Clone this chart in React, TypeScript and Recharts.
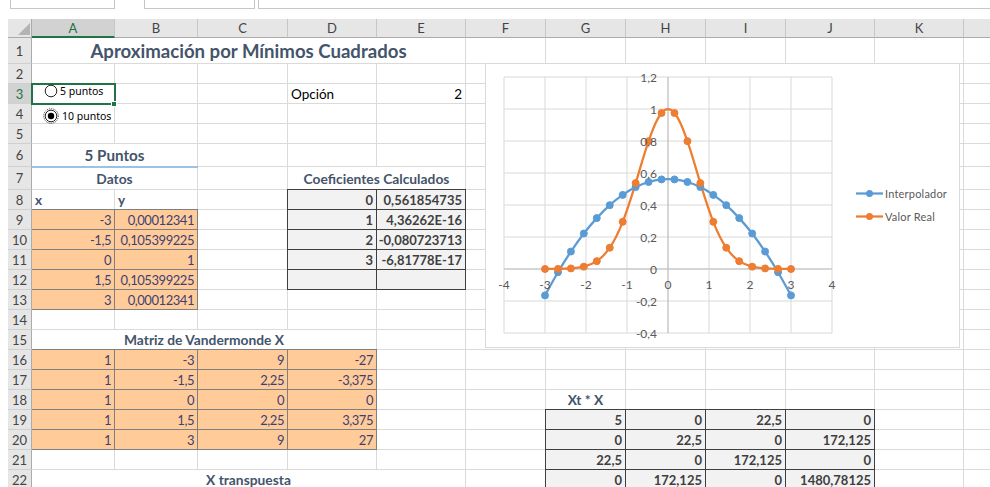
import React from 'react';
import { ComposedChart, Line, XAxis, YAxis, CartesianGrid, ReferenceLine, Legend } from 'recharts';

// ---------- chart data ----------
const xValues = [-3, -2.684, -2.368, -2.053, -1.737, -1.421, -1.105, -0.789, -0.474, -0.158, 0.158, 0.474, 0.789, 1.105, 1.421, 1.737, 2.053, 2.368, 2.684, 3];
const interpolador = [-0.165, -0.02, 0.109, 0.222, 0.318, 0.399, 0.463, 0.512, 0.544, 0.56, 0.56, 0.544, 0.512, 0.463, 0.399, 0.318, 0.222, 0.109, -0.02, -0.165];
const valorReal = [0.0001, 0.0007, 0.0037, 0.0148, 0.049, 0.133, 0.295, 0.537, 0.799, 0.975, 0.975, 0.799, 0.537, 0.295, 0.133, 0.049, 0.0148, 0.0037, 0.0007, 0.0001];
const xTicks = [-4, -3, -2, -1, 0, 1, 2, 3, 4];
const yTicks = [-0.4, -0.2, 0, 0.2, 0.4, 0.6, 0.8, 1, 1.2];
const seriesNames = ['Interpolador', 'Valor Real'];
const seriesColors = ['#5b9bd5', '#ed7d31'];

const chartData = xValues.map((x, i) => ({ x, interp: interpolador[i], real: valorReal[i] }));

// ---------- sheet data ----------
const colLetters = ['A', 'B', 'C', 'D', 'E', 'F', 'G', 'H', 'I', 'J', 'K', ''];
const colEdges = [32, 115, 198, 288, 377, 466, 546, 626, 706, 786, 875, 964, 1053];
const rowEdges = [38, 64, 84, 104, 124, 144, 167, 190, 210, 230, 250, 270, 290, 310, 330, 350, 370, 390, 410, 430, 450, 470, 490];

const titleText = 'Aproximación por Mínimos Cuadrados';
const datosX = ['-3', '-1,5', '0', '1,5', '3'];
const datosY = ['0,00012341', '0,105399225', '1', '0,105399225', '0,00012341'];
const coefIdx = ['0', '1', '2', '3', ''];
const coefVal = ['0,561854735', '4,36262E-16', '-0,080723713', '-6,81778E-17', ''];
const vandermonde = [
  ['1', '-3', '9', '-27'],
  ['1', '-1,5', '2,25', '-3,375'],
  ['1', '0', '0', '0'],
  ['1', '1,5', '2,25', '3,375'],
  ['1', '3', '9', '27'],
];
const xtx = [
  ['5', '0', '22,5', '0'],
  ['0', '22,5', '0', '172,125'],
  ['22,5', '0', '172,125', '0'],
  ['0', '172,125', '0', '1480,78125'],
];

type Kind = 'title' | 'h2' | 'h3' | 'h4' | 'plain' | 'input' | 'output';
type Cell = { r: number; c: number; span?: number; text: string; align?: 'left' | 'center' | 'right'; kind: Kind };

const cells: Cell[] = [];
cells.push({ r: 1, c: 0, span: 5, text: titleText, kind: 'title', align: 'center' });
cells.push({ r: 3, c: 3, text: 'Opción', kind: 'plain', align: 'left' });
cells.push({ r: 3, c: 4, text: '2', kind: 'plain', align: 'right' });
cells.push({ r: 6, c: 0, span: 2, text: '5 Puntos', kind: 'h2', align: 'center' });
cells.push({ r: 7, c: 0, span: 2, text: 'Datos', kind: 'h3', align: 'center' });
cells.push({ r: 7, c: 3, span: 2, text: 'Coeficientes Calculados', kind: 'h3', align: 'center' });
cells.push({ r: 8, c: 0, text: 'x', kind: 'h4', align: 'left' });
cells.push({ r: 8, c: 1, text: 'y', kind: 'h4', align: 'left' });
datosX.forEach((t, i) => cells.push({ r: 9 + i, c: 0, text: t, kind: 'input', align: 'right' }));
datosY.forEach((t, i) => cells.push({ r: 9 + i, c: 1, text: t, kind: 'input', align: 'right' }));
coefIdx.forEach((t, i) => cells.push({ r: 8 + i, c: 3, text: t, kind: 'output', align: 'right' }));
coefVal.forEach((t, i) => cells.push({ r: 8 + i, c: 4, text: t, kind: 'output', align: 'right' }));
cells.push({ r: 15, c: 0, span: 4, text: 'Matriz de Vandermonde X', kind: 'h3', align: 'center' });
vandermonde.forEach((row, i) => row.forEach((t, j) => cells.push({ r: 16 + i, c: j, text: t, kind: 'input', align: 'right' })));
cells.push({ r: 18, c: 6, text: 'Xt * X', kind: 'h3', align: 'center' });
xtx.forEach((row, i) => row.forEach((t, j) => cells.push({ r: 19 + i, c: 6 + j, text: t, kind: 'output', align: 'right' })));
cells.push({ r: 22, c: 0, span: 5, text: 'X transpuesta', kind: 'h3', align: 'center' });

const FONT = "Lato, 'Open Sans', sans-serif";
const GRID = '#dadada';

const textStyle = (k: Kind): React.CSSProperties => {
  switch (k) {
    case 'title': return { fontSize: 18.6, fontWeight: 700, color: '#44546a' };
    case 'h2': return { fontSize: 15.2, fontWeight: 700, color: '#44546a' };
    case 'h3': return { fontSize: 13.8, fontWeight: 700, color: '#44546a' };
    case 'h4': return { fontSize: 13.5, fontWeight: 700, color: '#44546a' };
    case 'input': return { fontSize: 13, color: '#3f3f76', letterSpacing: -0.45 };
    case 'output': return { fontSize: 13, fontWeight: 700, color: '#3f3f3f' };
    default: return { fontSize: 13.5, color: '#000' };
  }
};

function Sheet() {
  const els: React.ReactNode[] = [];
  const nRows = rowEdges.length - 1;
  for (let r = 1; r <= nRows; r++) {
    const top = rowEdges[r - 1];
    const h = rowEdges[r] - top;
    let c = 0;
    while (c < colLetters.length) {
      const merged = cells.find((q) => q.r === r && q.c === c && (q.span || 1) > 1);
      const span = merged ? merged.span! : 1;
      const left = colEdges[c];
      const w = colEdges[c + span] - left;
      els.push(
        <div key={`g${r}-${c}`} style={{ position: 'absolute', left, top, width: w, height: h, boxSizing: 'border-box', borderRight: `1px solid ${GRID}`, borderBottom: `1px solid ${GRID}`, background: '#fff' }} />
      );
      c += span;
    }
  }
  cells.forEach((q, i) => {
    const span = q.span || 1;
    const left = colEdges[q.c];
    const right = colEdges[q.c + span];
    const top = rowEdges[q.r - 1];
    const bottom = rowEdges[q.r];
    const boxed = q.kind === 'input' || q.kind === 'output';
    const style: React.CSSProperties = {
      position: 'absolute',
      left: boxed ? left - 1 : left,
      top: boxed ? top - 1 : top,
      width: boxed ? right - left + 1 : right - left - 1,
      height: boxed ? bottom - top + 1 : bottom - top - 1,
      boxSizing: 'border-box',
      display: 'flex',
      alignItems: 'center',
      justifyContent: q.align === 'right' ? 'flex-end' : q.align === 'center' ? 'center' : 'flex-start',
      padding: '0 3px',
      fontFamily: FONT,
      whiteSpace: 'nowrap',
      ...textStyle(q.kind),
    };
    if (q.kind === 'input') { style.background = '#ffcc99'; style.border = '1px solid #7f7f7f'; }
    if (q.kind === 'output') { style.background = '#f2f2f2'; style.border = '1px solid #3f3f3f'; }
    if (!boxed && (q.span || 1) > 1) style.background = '#fff';
    els.push(<div key={`c${i}`} style={style}>{q.text}</div>);
  });
  els.push(<div key="h2u" style={{ position: 'absolute', left: colEdges[0], top: rowEdges[6] - 1, width: colEdges[2] - colEdges[0], height: 2, background: '#9bc2e6' }} />);
  colLetters.forEach((L, c) => {
    const sel = c === 0;
    els.push(
      <div key={`ch${c}`} style={{ position: 'absolute', left: colEdges[c], top: 19, width: colEdges[c + 1] - colEdges[c], height: 19, boxSizing: 'border-box', background: sel ? '#d2d2d2' : '#e6e6e6', borderRight: '1px solid #c6c6c6', borderBottom: sel ? '2px solid #217346' : '1px solid #ababab', color: sel ? '#217346' : '#444', fontFamily: FONT, fontSize: 13, display: 'flex', alignItems: 'center', justifyContent: 'center' }}>{L}</div>
    );
  });
  for (let r = 1; r <= nRows; r++) {
    const sel = r === 3;
    els.push(
      <div key={`rh${r}`} style={{ position: 'absolute', left: 8, top: rowEdges[r - 1], width: 24, height: rowEdges[r] - rowEdges[r - 1], boxSizing: 'border-box', background: sel ? '#d2d2d2' : '#e6e6e6', borderRight: '1px solid #ababab', borderBottom: '1px solid #d0d0d0', color: sel ? '#217346' : '#444', fontFamily: FONT, fontSize: 13, display: 'flex', alignItems: 'center', justifyContent: 'center' }}>{r}</div>
    );
  }
  els.push(
    <svg key="corner" style={{ position: 'absolute', left: 8, top: 19 }} width={24} height={19}>
      <rect x={0} y={0} width={24} height={19} fill="#e6e6e6" />
      <line x1={23.5} y1={0} x2={23.5} y2={19} stroke="#ababab" />
      <line x1={0} y1={18.5} x2={24} y2={18.5} stroke="#ababab" />
      <polygon points="22,4 22,16 10,16" fill="#b4b4b4" />
    </svg>
  );
  els.push(<div key="fb1" style={{ position: 'absolute', left: 10, top: -10, width: 103, height: 17, border: '1px solid #c6c6c6' }} />);
  els.push(<div key="fb2" style={{ position: 'absolute', left: 144, top: -10, width: 109, height: 17, border: '1px solid #c6c6c6' }} />);
  els.push(<div key="fb3" style={{ position: 'absolute', left: 258, top: -10, width: 740, height: 17, border: '1px solid #c6c6c6' }} />);
  els.push(<div key="sel" style={{ position: 'absolute', left: 31, top: 83, width: 85, height: 22, boxSizing: 'border-box', border: '2px solid #217346' }} />);
  els.push(<div key="fill" style={{ position: 'absolute', left: 111, top: 101, width: 6, height: 6, boxSizing: 'border-box', background: '#217346', border: '1px solid #fff' }} />);
  els.push(
    <svg key="radios" style={{ position: 'absolute', left: 40, top: 82 }} width={80} height={42}>
      <circle cx={11} cy={9} r={5.8} fill="#fff" stroke="#222" strokeWidth={1} />
      <text x={20} y={9} dominantBaseline="central" fontFamily="'Noto Sans', sans-serif" fontSize={10.5} fill="#000">5 puntos</text>
      <circle cx={11} cy={34} r={7.3} fill="none" stroke="#000" strokeWidth={0.8} strokeDasharray="1 1" />
      <circle cx={11} cy={34} r={5.8} fill="#fff" stroke="#222" strokeWidth={1} />
      <circle cx={11} cy={34} r={3.2} fill="#000" />
      <text x={22} y={34} dominantBaseline="central" fontFamily="'Noto Sans', sans-serif" fontSize={10.5} fill="#000">10 puntos</text>
    </svg>
  );
  return <>{els}</>;
}

// ---------- chart ----------
const CH_W = 473;
const CH_H = 283;
const X_AXIS_H = 14;
const Y_AXIS_W = 18;
const MARGIN = { top: 13, right: 127, bottom: 0, left: 0 };
const PLOT_LEFT = MARGIN.left + Y_AXIS_W;
const PLOT_W = CH_W - PLOT_LEFT - MARGIN.right;
const PLOT_H = CH_H - MARGIN.top - MARGIN.bottom - X_AXIS_H;
const X_MIN = xTicks[0];
const X_MAX = xTicks[xTicks.length - 1];
const Y_MIN = yTicks[0];
const Y_MAX = yTicks[yTicks.length - 1];
const ZERO_Y = MARGIN.top + (PLOT_H * (Y_MAX - 0)) / (Y_MAX - Y_MIN);
const ZERO_X = PLOT_LEFT + (PLOT_W * (0 - X_MIN)) / (X_MAX - X_MIN);

const fmt = (v: number) => String(Math.round(v * 10) / 10).replace('.', ',');

const renderXTick = (props: any) => {
  const { x, payload } = props;
  return (
    <text x={x} y={ZERO_Y + 15} textAnchor="middle" dominantBaseline="central" fill="#595959" fontSize={12} fontFamily={FONT}>
      {fmt(payload.value)}
    </text>
  );
};

const renderYTick = (props: any) => {
  const { y, payload } = props;
  return (
    <text x={ZERO_X - 11} y={y} textAnchor="end" dominantBaseline="central" fill="#595959" fontSize={12} fontFamily={FONT}>
      {fmt(payload.value)}
    </text>
  );
};

const renderLegend = (props: any) => {
  const payload = props.payload || [];
  return (
    <div>
      {payload.map((entry: any, i: number) => (
        <div key={i} style={{ display: 'flex', alignItems: 'center', height: 23 }}>
          <svg width={27} height={9}>
            <line x1={0} y1={4.5} x2={27} y2={4.5} stroke={entry.color} strokeWidth={2.25} />
            <circle cx={13.5} cy={4.5} r={3.5} fill={entry.color} />
          </svg>
          <span style={{ marginLeft: 2, fontSize: 11, color: '#595959', fontFamily: FONT, letterSpacing: 0.2 }}>{entry.value}</span>
        </div>
      ))}
    </div>
  );
};

function Chart() {
  return (
    <div style={{ position: 'absolute', left: 485, top: 63, width: CH_W + 2, height: CH_H + 2, boxSizing: 'border-box', border: '1px solid #d9d9d9', background: '#fff' }}>
      <ComposedChart width={CH_W} height={CH_H} data={chartData} margin={MARGIN}>
        <CartesianGrid stroke="#d9d9d9" strokeWidth={1} />
        <XAxis dataKey="x" type="number" domain={[X_MIN, X_MAX]} ticks={xTicks} height={X_AXIS_H} axisLine={false} tickLine={false} tick={renderXTick} interval={0} allowDataOverflow />
        <YAxis type="number" domain={[Y_MIN, Y_MAX]} ticks={yTicks} width={Y_AXIS_W} axisLine={false} tickLine={false} tick={renderYTick} interval={0} allowDataOverflow />
        <ReferenceLine x={0} stroke="#bfbfbf" strokeWidth={1} />
        <ReferenceLine y={0} stroke="#bfbfbf" strokeWidth={1} />
        <Line dataKey="interp" name={seriesNames[0]} type="natural" stroke={seriesColors[0]} strokeWidth={2.25} dot={{ r: 3.5, fill: seriesColors[0], stroke: seriesColors[0], strokeWidth: 1 }} isAnimationActive={false} />
        <Line dataKey="real" name={seriesNames[1]} type="natural" stroke={seriesColors[1]} strokeWidth={2.25} dot={{ r: 3.5, fill: seriesColors[1], stroke: seriesColors[1], strokeWidth: 1 }} isAnimationActive={false} />
        <Legend layout="vertical" align="center" verticalAlign="middle" content={renderLegend} wrapperStyle={{ left: 856 - 486, top: 193 - 64 - 11.5, width: 100 }} />
      </ComposedChart>
    </div>
  );
}

export default function App() {
  return (
    <div style={{ position: 'absolute', left: 0, top: 0, width: 990, height: 487, overflow: 'hidden', background: '#fff' }}>
      <Sheet />
      <Chart />
    </div>
  );
}
